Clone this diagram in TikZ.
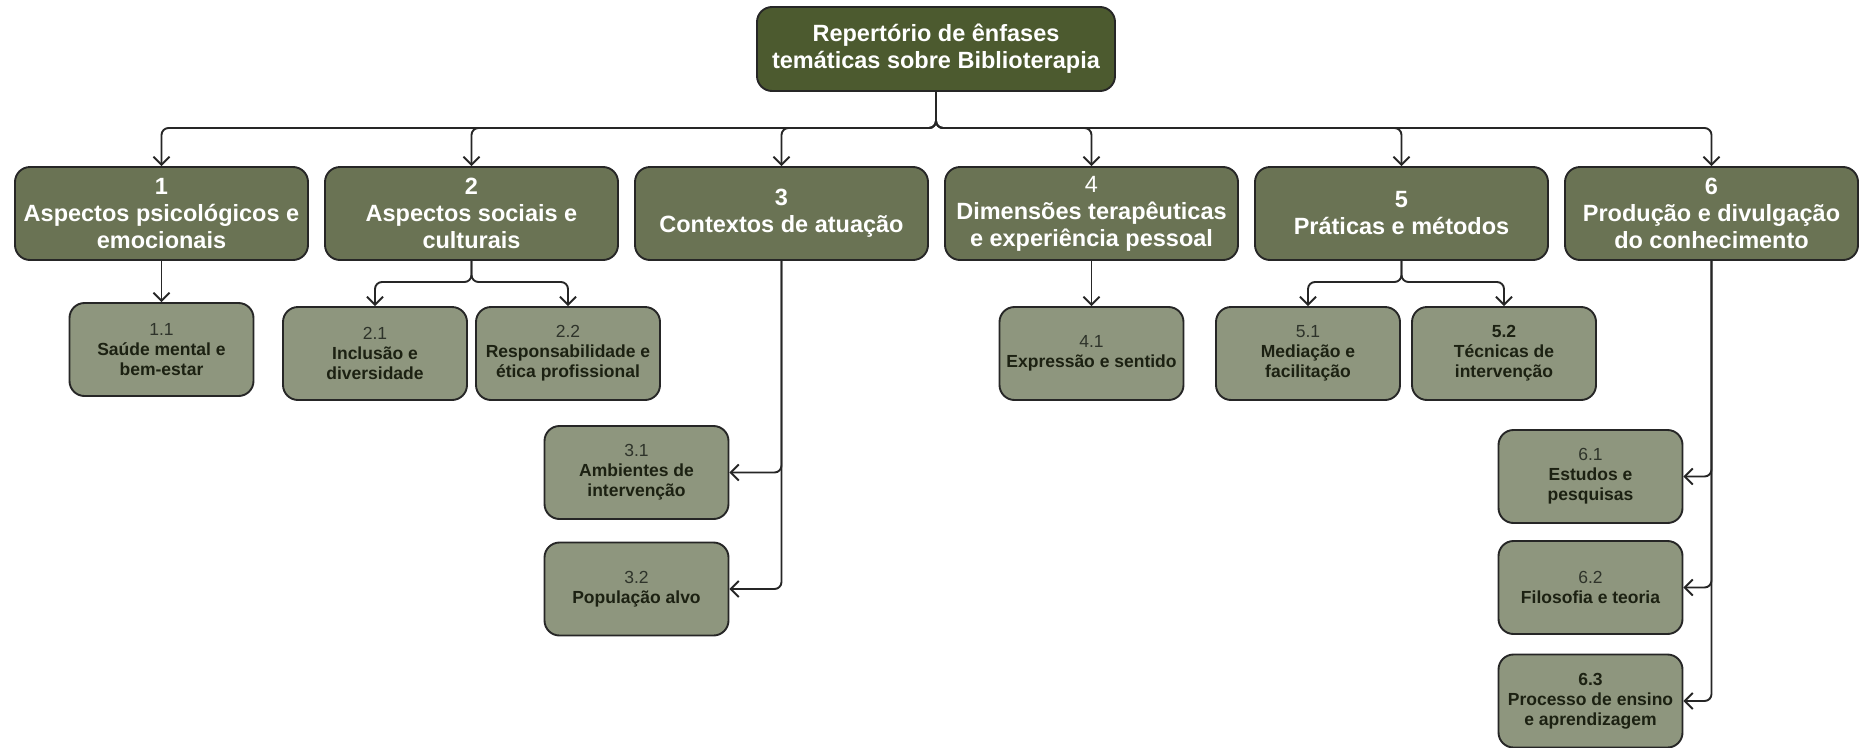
\documentclass[tikz,border=0pt]{standalone}
\usepackage{fontspec}
\setmainfont{Liberation Sans}
\usetikzlibrary{arrows.meta}
\definecolor{rootfill}{HTML}{4C5A2F}
\definecolor{lonefill}{HTML}{6A7354}
\definecolor{ltwofill}{HTML}{8E967E}
\definecolor{edgecol}{HTML}{262626}
\definecolor{darktext}{HTML}{1C2112}
\definecolor{numtext}{HTML}{2E332A}
\tikzset{
  box/.style={rectangle, rounded corners=15pt, draw=edgecol, line width=1.9pt, align=center, inner sep=0pt},
  rootbox/.style={box, fill=rootfill, minimum width=358pt, minimum height=84pt, text=white,
    font=\fontsize{23.5}{27}\selectfont\bfseries},
  lonebox/.style={box, fill=lonefill, minimum width=293pt, minimum height=93pt, text=white,
    font=\fontsize{23.5}{27}\selectfont\bfseries},
  ltwobox/.style={box, fill=ltwofill, minimum width=184pt, minimum height=93pt, text=darktext,
    font=\fontsize{17.5}{20}\selectfont\bfseries},
  conn/.style={draw=edgecol, line width=1.9pt, rounded corners=7pt,
    -{Straight Barb[length=8pt,width=16pt,line width=1.9pt]}},
}
\newcommand{\numreg}[1]{{\mdseries\color{numtext}#1}}
\begin{document}
\begin{tikzpicture}[x=1pt,y=-1pt]
\useasboundingbox (0,0) rectangle (1865,747);
% root
\node[rootbox] (root) at (936,49) {Repertório de ênfases\\temáticas sobre Biblioterapia};
% level 1
\node[lonebox] (A) at (161.5,213.5) {1\\Aspectos psicológicos e\\emocionais};
\node[lonebox] (B) at (471.5,213.5) {2\\Aspectos sociais e\\culturais};
\node[lonebox] (C) at (781.5,213.5) {3\\Contextos de atuação};
\node[lonebox] (D) at (1091.5,213.5) {{\mdseries 4}\\Dimensões terapêuticas\\e experiência pessoal};
\node[lonebox] (E) at (1401.5,213.5) {5\\Práticas e métodos};
\node[lonebox] (F) at (1711.5,213.5) {6\\Produção e divulgação\\do conhecimento};
% level 2
\node[ltwobox] (A1) at (161.5,349.5) {\numreg{1.1}\\Saúde mental e\\bem-estar};
\node[ltwobox] (B1) at (375,353.5) {\numreg{2.1}\\Inclusão e\\diversidade};
\node[ltwobox] (B2) at (568,353.5) {\numreg{2.2}\\Responsabilidade e\\ética profissional};
\node[ltwobox] (D1) at (1091.5,353.5) {\numreg{4.1}\\Expressão e sentido};
\node[ltwobox] (E1) at (1308,353.5) {\numreg{5.1}\\Mediação e\\facilitação};
\node[ltwobox] (E2) at (1504,353.5) {5.2\\Técnicas de\\intervenção};
\node[ltwobox] (C1) at (636.5,472.5) {\numreg{3.1}\\Ambientes de\\intervenção};
\node[ltwobox] (C2) at (636.5,589) {\numreg{3.2}\\População alvo};
\node[ltwobox] (F1) at (1590.5,476.5) {\numreg{6.1}\\Estudos e\\pesquisas};
\node[ltwobox] (F2) at (1590.5,587.5) {\numreg{6.2}\\Filosofia e teoria};
\node[ltwobox] (F3) at (1590.5,701) {6.3\\Processo de ensino\\e aprendizagem};
% junction points
\coordinate (bus) at (936,128);
\coordinate (splitB) at (471.5,282);
\coordinate (splitE) at (1401.5,282);
% connectors root -> level 1
\foreach \t in {A,B,C,D,E,F} {
  \draw[conn] (root.south) -- (bus) -| (\t.north);
}
% level 1 -> level 2
\draw[conn] (A.south) -- (A1.north);
\draw[conn] (B.south) -- (splitB) -| (B1.north);
\draw[conn] (B.south) -- (splitB) -| (B2.north);
\draw[conn] (D.south) -- (D1.north);
\draw[conn] (E.south) -- (splitE) -| (E1.north);
\draw[conn] (E.south) -- (splitE) -| (E2.north);
\draw[conn] (C.south) |- (C1.east);
\draw[conn] (C.south) |- (C2.east);
\draw[conn] (F.south) |- (F1.east);
\draw[conn] (F.south) |- (F2.east);
\draw[conn] (F.south) |- (F3.east);
\end{tikzpicture}
\end{document}
